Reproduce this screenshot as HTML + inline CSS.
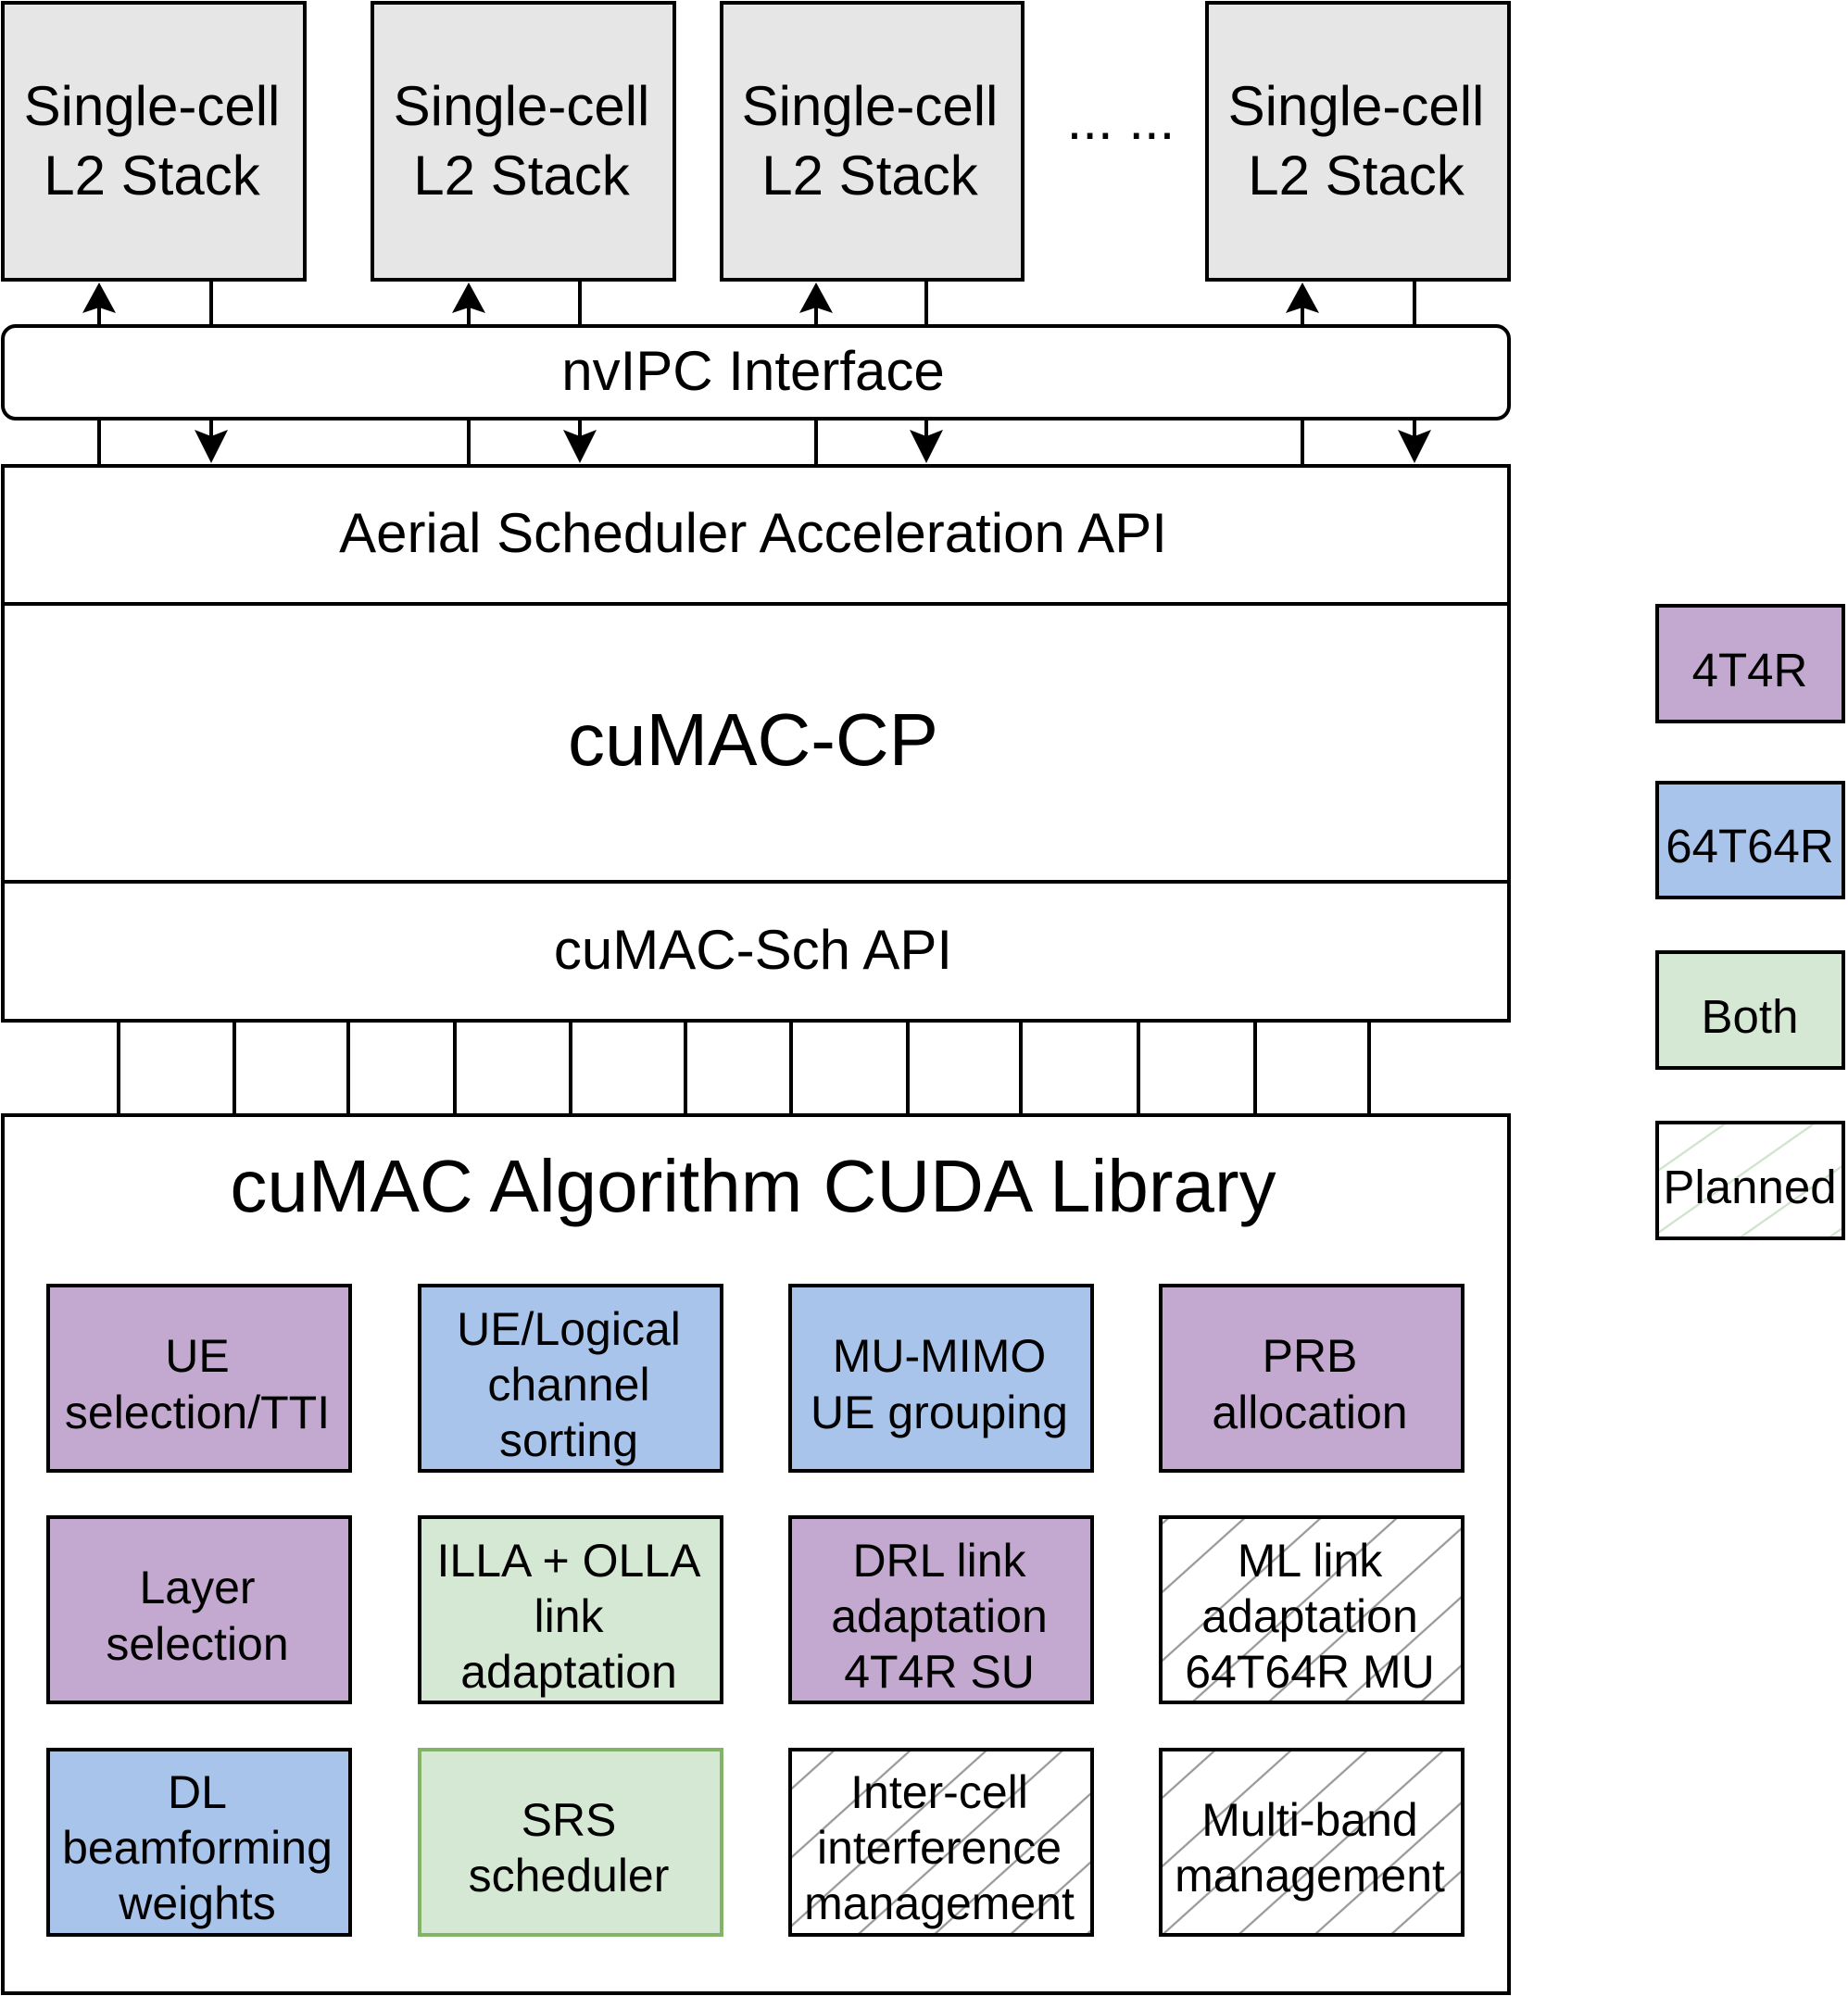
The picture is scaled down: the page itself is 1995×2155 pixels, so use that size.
<!DOCTYPE html>
<html><head><meta charset="utf-8"><style>
html,body{margin:0;padding:0;background:#fff;}
svg{display:block;}
text{font-family:"Liberation Sans",Arial,sans-serif;fill:#000;text-anchor:middle;}
</style></head><body>
<svg width="1995" height="2155" viewBox="0 0 1995 2155" xmlns="http://www.w3.org/2000/svg">
<defs>
<pattern id="hg" patternUnits="userSpaceOnUse" width="55" height="55" patternTransform="rotate(-42)">
<line x1="0" y1="27" x2="55" y2="27" stroke="#999" stroke-width="2.2"/>
</pattern>
<pattern id="hgr" patternUnits="userSpaceOnUse" width="55" height="55" patternTransform="rotate(-35)">
<line x1="0" y1="27" x2="55" y2="27" stroke="#cfe3cc" stroke-width="2.2"/>
</pattern>
</defs>
<g stroke="#000" stroke-width="4">
<rect x="3" y="3" width="326" height="299" fill="#e6e6e6"/>
<rect x="402" y="3" width="326" height="299" fill="#e6e6e6"/>
<rect x="779" y="3" width="325" height="299" fill="#e6e6e6"/>
<rect x="1303" y="3" width="326" height="299" fill="#e6e6e6"/>
<rect x="3" y="352" width="1626" height="100" rx="14" fill="#fff"/>
<rect x="3" y="503" width="1626" height="599" fill="#fff"/>
<line x1="3" y1="652" x2="1629" y2="652"/>
<line x1="3" y1="952" x2="1629" y2="952"/>
<rect x="3" y="1204" width="1626" height="948" fill="#fff"/>
</g>
<g stroke="#000" stroke-width="4" fill="none">
<path d="M107 330V352M228 302V352M506 330V352M626 302V352M881 330V352M1000 302V352M1406 330V352M1527 302V352"/>
<path d="M107 452V503M228 452V475M506 452V503M626 452V475M881 452V503M1000 452V475M1406 452V503M1527 452V475"/>
<path d="M128 1102V1204M253 1102V1204M376 1102V1204M491 1102V1204M616 1102V1204M740 1102V1204M854 1102V1204M980 1102V1204M1102 1102V1204M1229 1102V1204M1355 1102V1204M1478 1102V1204"/>
</g>
<g fill="#000">
<path d="M107 305L125 338L107 332L89 338Z"/>
<path d="M506 305L524 338L506 332L488 338Z"/>
<path d="M881 305L899 338L881 332L863 338Z"/>
<path d="M1406 305L1424 338L1406 332L1388 338Z"/>
<path d="M228 500L246 464L228 471L210 464Z"/>
<path d="M626 500L644 464L626 471L608 464Z"/>
<path d="M1000 500L1018 464L1000 471L982 464Z"/>
<path d="M1527 500L1545 464L1527 471L1509 464Z"/>
</g>
<g font-size="60">
<text x="164" y="135">Single-cell</text><text x="164" y="210">L2 Stack</text>
<text x="563" y="135">Single-cell</text><text x="563" y="210">L2 Stack</text>
<text x="939" y="135">Single-cell</text><text x="939" y="210">L2 Stack</text>
<text x="1464" y="135">Single-cell</text><text x="1464" y="210">L2 Stack</text>
<text x="1210" y="150">... ...</text>
</g>
<text x="813" y="421" font-size="60">nvIPC Interface</text>
<text x="813" y="596" font-size="60">Aerial Scheduler Acceleration API</text>
<text x="813" y="826" font-size="80">cuMAC-CP</text>
<text x="813" y="1046" font-size="60">cuMAC-Sch API</text>
<text x="813" y="1308" font-size="80">cuMAC Algorithm CUDA Library</text>
<g stroke="#000" stroke-width="4">
<rect x="52" y="1388" width="326" height="200" fill="#c3a9cf"/>
<rect x="453" y="1388" width="326" height="200" fill="#a9c4eb"/>
<rect x="853" y="1388" width="326" height="200" fill="#a9c4eb"/>
<rect x="1253" y="1388" width="326" height="200" fill="#c3a9cf"/>
<rect x="52" y="1638" width="326" height="200" fill="#c3a9cf"/>
<rect x="453" y="1638" width="326" height="200" fill="#d5e8d4"/>
<rect x="853" y="1638" width="326" height="200" fill="#c3a9cf"/>
<rect x="1253" y="1638" width="326" height="200" fill="url(#hg)"/>
<rect x="52" y="1889" width="326" height="200" fill="#a9c4eb"/>
<rect x="453" y="1889" width="326" height="200" fill="#d5e8d4" stroke="#82b366"/>
<rect x="853" y="1889" width="326" height="200" fill="url(#hg)"/>
<rect x="1253" y="1889" width="326" height="200" fill="url(#hg)"/>
<rect x="1789" y="654" width="201" height="125" fill="#c3a9cf"/>
<rect x="1789" y="845" width="201" height="124" fill="#a9c4eb"/>
<rect x="1789" y="1028" width="201" height="125" fill="#d5e8d4"/>
<rect x="1789" y="1212" width="201" height="125" fill="url(#hgr)"/>
</g>
<g font-size="50">
<text x="213" y="1481">UE</text><text x="213" y="1542">selection/TTI</text>
<text x="614" y="1452">UE/Logical</text><text x="614" y="1512">channel</text><text x="614" y="1572">sorting</text>
<text x="1014" y="1481">MU-MIMO</text><text x="1014" y="1542">UE grouping</text>
<text x="1414" y="1481">PRB</text><text x="1414" y="1542">allocation</text>
<text x="213" y="1731">Layer</text><text x="213" y="1792">selection</text>
<text x="614" y="1702">ILLA + OLLA</text><text x="614" y="1762">link</text><text x="614" y="1822">adaptation</text>
<text x="1014" y="1702">DRL link</text><text x="1014" y="1762">adaptation</text><text x="1014" y="1822">4T4R SU</text>
<text x="1414" y="1702">ML link</text><text x="1414" y="1762">adaptation</text><text x="1414" y="1822">64T64R MU</text>
<text x="213" y="1952">DL</text><text x="213" y="2012">beamforming</text><text x="213" y="2072">weights</text>
<text x="614" y="1982">SRS</text><text x="614" y="2042">scheduler</text>
<text x="1014" y="1952">Inter-cell</text><text x="1014" y="2012">interference</text><text x="1014" y="2072">management</text>
<text x="1414" y="1982">Multi-band</text><text x="1414" y="2042">management</text>
</g>
<g font-size="51">
<text x="1889" y="741">4T4R</text>
<text x="1889" y="931">64T64R</text>
<text x="1889" y="1115">Both</text>
<text x="1889" y="1299">Planned</text>
</g>
</svg>
</body></html>
